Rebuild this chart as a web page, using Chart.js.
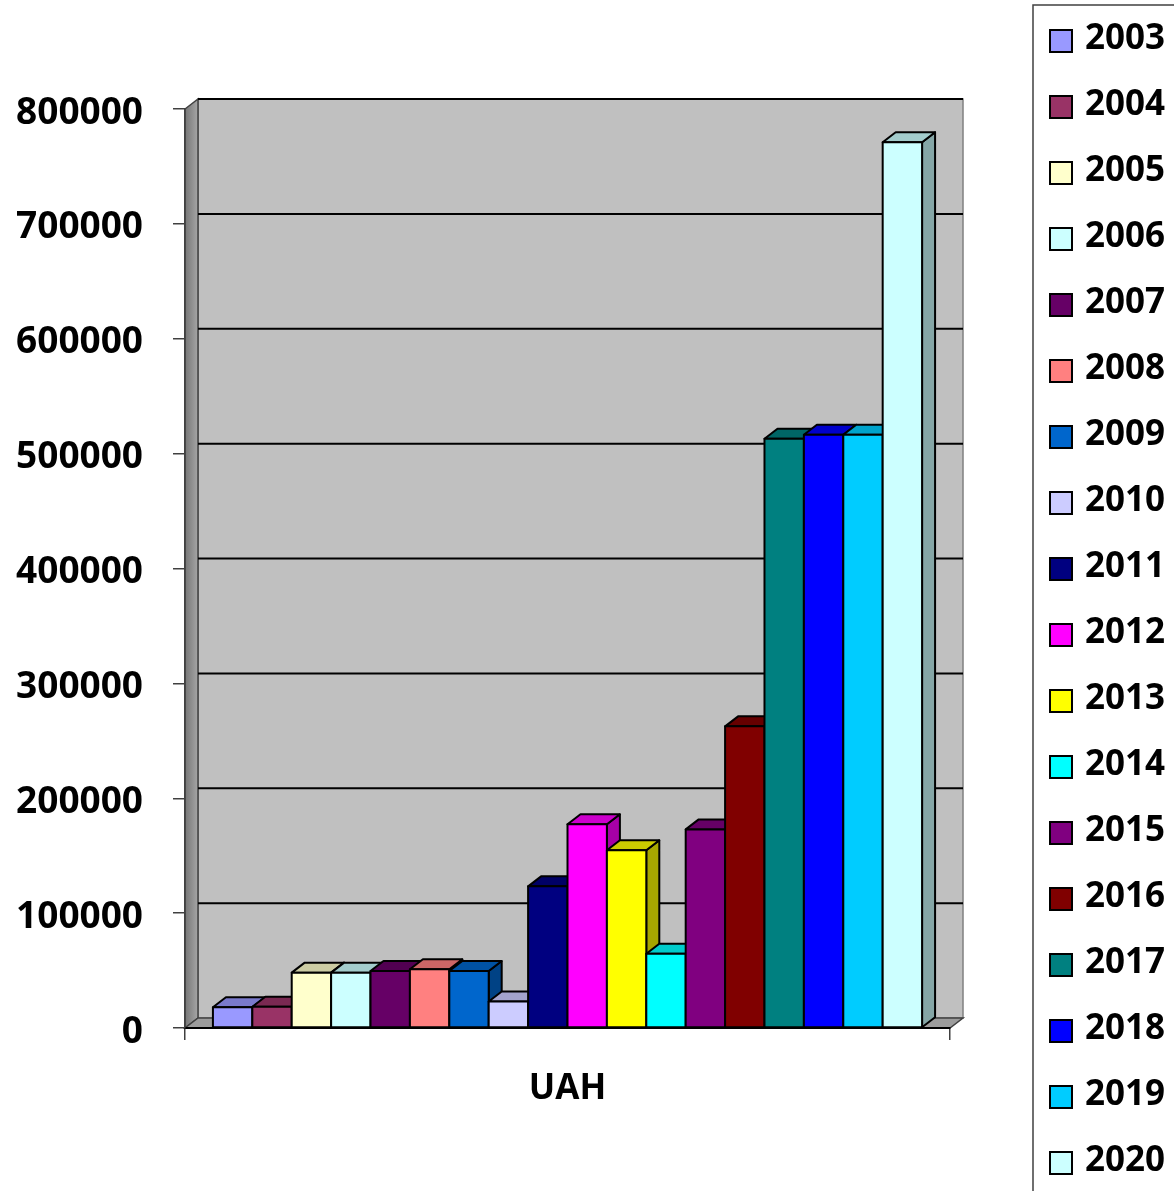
<!DOCTYPE html>
<html lang="en">
<head>
    <meta charset="UTF-8">
    <title>UAH</title>
    <script src="https://cdn.jsdelivr.net/npm/chart.js@4.4.1/dist/chart.umd.min.js"></script>
    <style>
        body { margin: 0; background: #fff; }
        #wrap { width: 1174px; height: 1191px; position: relative; }
    </style>
</head>
<body>
    <div id="wrap"><canvas id="myChart"></canvas></div>
</body>
<script>
    // data
    var categories = ['UAH'];
    var years = ['2003', '2004', '2005', '2006', '2007', '2008', '2009', '2010', '2011',
                 '2012', '2013', '2014', '2015', '2016', '2017', '2018', '2019', '2020'];
    var uahValues = [18000, 18500, 48200, 48200, 49600, 51100, 49600, 23000, 123300,
                     177300, 154700, 64700, 172900, 262600, 513000, 516400, 516400, 771100];
    var barColors = ['#9999FF', '#993366', '#FFFFCC', '#CCFFFF', '#660066', '#FF8080', '#0066CC', '#CCCCFF', '#000080',
                     '#FF00FF', '#FFFF00', '#00FFFF', '#800080', '#800000', '#008080', '#0000FF', '#00CCFF', '#CCFFFF'];
    var yMin = 0, yMax = 800000, yStep = 100000;

    var FONT = "'Open Sans', 'Liberation Sans', sans-serif";
    var DX = 13, DY = -10;   // 3d depth offset

    function shade(hex, f) {
        var n = parseInt(hex.slice(1), 16);
        var r = Math.round(((n >> 16) & 255) * f);
        var g = Math.round(((n >> 8) & 255) * f);
        var b = Math.round((n & 255) * f);
        return 'rgb(' + r + ',' + g + ',' + b + ')';
    }

    function poly(ctx, pts, fill, stroke, lw) {
        ctx.beginPath();
        ctx.moveTo(pts[0][0], pts[0][1]);
        for (var i = 1; i < pts.length; i++) ctx.lineTo(pts[i][0], pts[i][1]);
        ctx.closePath();
        if (fill) { ctx.fillStyle = fill; ctx.fill(); }
        if (stroke) { ctx.strokeStyle = stroke; ctx.lineWidth = lw; ctx.stroke(); }
    }

    var walls3d = {
        id: 'walls3d',
        beforeDraw: function (chart) {
            var ctx = chart.ctx, a = chart.chartArea, ys = chart.scales.y;
            ctx.save();
            // back wall
            poly(ctx, [[a.left + DX, a.top + DY], [a.right + DX, a.top + DY],
                       [a.right + DX, a.bottom + DY], [a.left + DX, a.bottom + DY]], '#c0c0c0', '#808080', 1.5);
            // left wall
            var g = ctx.createLinearGradient(a.left, 0, a.left + DX, 0);
            g.addColorStop(0, '#767676');
            g.addColorStop(1, '#a6a6a6');
            poly(ctx, [[a.left, a.top], [a.left + DX, a.top + DY],
                       [a.left + DX, a.bottom + DY], [a.left, a.bottom]], g, '#404040', 1.5);
            // floor
            poly(ctx, [[a.left, a.bottom], [a.right, a.bottom],
                       [a.right + DX, a.bottom + DY], [a.left + DX, a.bottom + DY]], '#9c9c9c', '#404040', 1.5);
            // gridlines on back wall
            ctx.strokeStyle = '#000';
            ctx.lineWidth = 2;
            for (var v = yMin + yStep; v <= yMax; v += yStep) {
                var y = ys.getPixelForValue(v) + DY;
                ctx.beginPath();
                ctx.moveTo(a.left + DX, y);
                ctx.lineTo(a.right + DX, y);
                ctx.stroke();
            }
            ctx.restore();
        },
        afterDatasetsDraw: function (chart) {
            var ctx = chart.ctx;
            ctx.save();
            ctx.lineJoin = 'round';
            chart.data.datasets.forEach(function (ds, i) {
                var bar = chart.getDatasetMeta(i).data[0];
                var l = bar.x - bar.width / 2, r = bar.x + bar.width / 2;
                var t = bar.y, b = bar.base;
                var c = barColors[i];
                // side face
                poly(ctx, [[r, t], [r + DX, t + DY], [r + DX, b + DY], [r, b]], shade(c, 0.65), '#000', 2);
                // top face
                poly(ctx, [[l, t], [r, t], [r + DX, t + DY], [l + DX, t + DY]], shade(c, 0.8), '#000', 2);
                // front face
                poly(ctx, [[l, t], [r, t], [r, b], [l, b]], c, '#000', 2);
            });
            ctx.restore();
        },
        afterDraw: function (chart) {
            var ctx = chart.ctx;
            ctx.save();
            ctx.strokeStyle = '#404040';
            ctx.lineWidth = 1.5;
            ctx.strokeRect(1033, 5, 200, 1250);
            ctx.font = 'bold 35px ' + FONT;
            ctx.textBaseline = 'middle';
            ctx.textAlign = 'left';
            years.forEach(function (yr, i) {
                var cy = 41 + 66 * i;
                ctx.fillStyle = barColors[i];
                ctx.fillRect(1050, cy - 11, 22, 22);
                ctx.strokeStyle = '#000';
                ctx.lineWidth = 2;
                ctx.strokeRect(1050, cy - 11, 22, 22);
                ctx.fillStyle = '#000';
                ctx.fillText(yr, 1085, cy - 2);
            });
            ctx.restore();
        }
    };

    var ctx = document.getElementById('myChart').getContext('2d');
    var chart = new Chart(ctx, {
        type: 'bar',
        data: {
            labels: categories,
            datasets: years.map(function (yr, i) {
                return {
                    label: yr,
                    data: [uahValues[i]],
                    backgroundColor: barColors[i],
                    borderColor: '#000',
                    borderWidth: 2,
                    barPercentage: 1.0,
                    categoryPercentage: 0.927
                };
            })
        },
        options: {
            responsive: true,
            maintainAspectRatio: false,
            animation: false,
            layout: { padding: { left: 0, top: 109, right: 224, bottom: 0 } },
            plugins: {
                legend: { display: false },
                tooltip: { enabled: false }
            },
            scales: {
                x: {
                    grid: { display: true, offset: true, drawOnChartArea: false, tickLength: 12, color: '#404040', lineWidth: 1.5 },
                    border: { display: true, color: '#000', width: 2 },
                    ticks: { color: '#000', padding: 28, font: { family: FONT, size: 35, weight: 'bold' } },
                    afterFit: function (s) { s.height = 163; }
                },
                y: {
                    min: yMin,
                    max: yMax,
                    ticks: {
                        stepSize: yStep, color: '#000', padding: 30, labelOffset: 4,
                        font: { family: FONT, size: 37, weight: 'bold' },
                        callback: function (v) { return String(v); }
                    },
                    grid: { display: true, drawOnChartArea: false, tickLength: 12, color: '#404040', lineWidth: 1.5 },
                    border: { display: true, color: '#404040', width: 1.5 },
                    afterFit: function (s) { s.width = 185; }
                }
            }
        },
        plugins: [walls3d]
    });
</script>
</html>
